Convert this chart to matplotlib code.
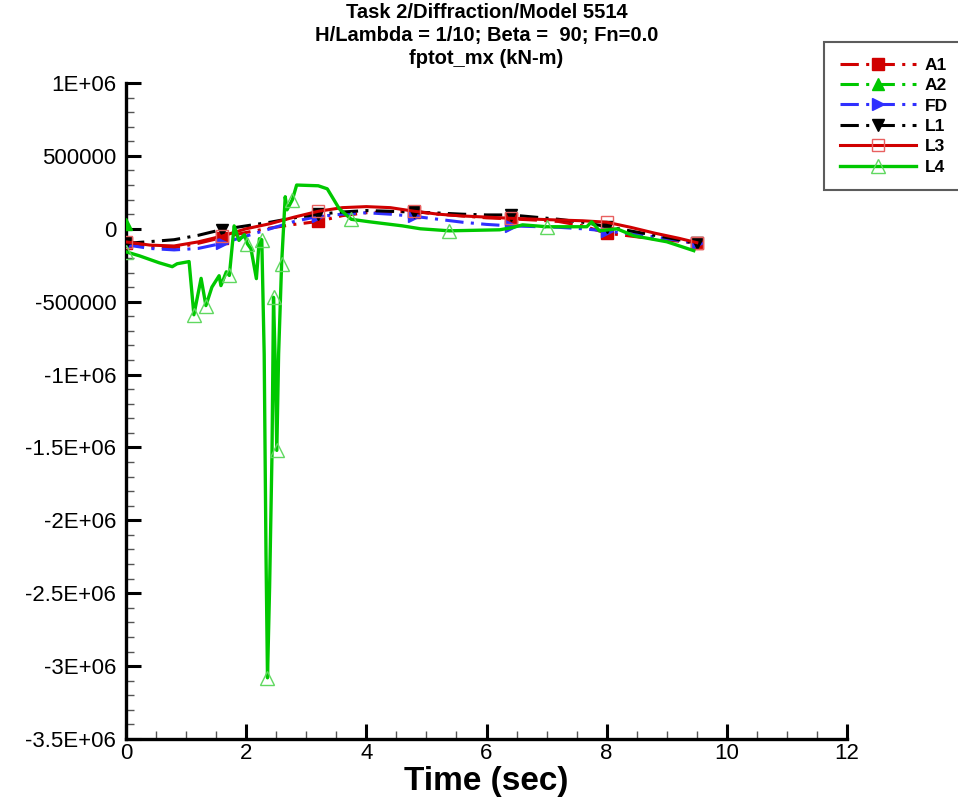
import matplotlib
matplotlib.use("Agg")
import matplotlib.pyplot as plt

# ---------------- data ----------------
t_grid = [0.0, 0.4, 0.8, 1.2, 1.6, 2.0, 2.4, 2.8, 3.2, 3.6, 4.0, 4.4, 4.8,
          5.2, 5.6, 6.0, 6.4, 6.8, 7.2, 7.6, 8.0, 8.4, 8.8, 9.2, 9.5]

a1 = [-100000, -125000, -130000, -100000, -60000, -25000, 5000, 30000, 50000,
      90000, 110000, 118000, 118000, 100000, 88000, 75000, 68000, 60000, 50000,
      20000, -30000, -50000, -70000, -85000, -100000]

fd = [-110000, -135000, -145000, -135000, -100000, -50000, 0, 50000, 85000,
      100000, 110000, 100000, 85000, 65000, 45000, 30000, 20000, 15000, 10000,
      0, -15000, -35000, -55000, -80000, -100000]

l1 = [-100000, -88000, -75000, -45000, -5000, 20000, 45000, 75000, 100000,
      115000, 125000, 120000, 115000, 108000, 100000, 95000, 95000, 80000,
      65000, 45000, 15000, -15000, -45000, -75000, -100000]

l3 = [-90000, -112000, -118000, -90000, -50000, 0, 35000, 80000, 120000,
      145000, 152000, 145000, 120000, 100000, 88000, 80000, 72000, 66000,
      60000, 55000, 45000, 10000, -30000, -65000, -95000]

a2_t = [0.0]
a2 = [30000]

l4_t = [0.00, 0.22, 0.55, 0.77, 0.85, 1.05, 1.13, 1.25, 1.33, 1.43, 1.55, 1.58,
        1.67, 1.72, 1.80, 1.88, 1.97, 2.02, 2.08, 2.17, 2.22, 2.26, 2.30, 2.33,
        2.355, 2.39, 2.43, 2.455, 2.48, 2.51, 2.54, 2.59, 2.65, 2.68, 2.77,
        2.84, 3.20, 3.35, 3.55, 3.75, 4.05, 4.60, 4.90, 5.38, 6.22, 6.45, 6.60,
        7.00, 7.67, 7.75, 7.88, 8.17, 8.45, 9.00, 9.45]
l4 = [-158000, -185000, -233000, -260000, -240000, -225000, -590000, -340000,
      -527000, -400000, -322000, -390000, -295000, -320000, 20000, -80000,
      -40000, -103000, -137000, -342000, -68000, -75000, -860000, -2230000,
      -3080000, -2460000, -1540000, -470000, -860000, -1520000, -860000,
      -240000, 220000, 130000, 200000, 300000, 295000, 274000, 137000, 65000,
      48000, 20000, 0, -14000, -7000, 10000, 27000, 14000, 14000, 48000,
      -14000, 0, -48000, -89000, -150000]
l4_marks = [0, 6, 8, 13, 17, 21, 24, 27, 29, 31, 34, 39, 43, 47]

x_ticks = [0, 2, 4, 6, 8, 10, 12]
y_ticks = [1e6, 5e5, 0, -5e5, -1e6, -1.5e6, -2e6, -2.5e6, -3e6, -3.5e6]
y_labels = ["1E+06", "500000", "0", "-500000", "-1E+06", "-1.5E+06",
            "-2E+06", "-2.5E+06", "-3E+06", "-3.5E+06"]

titles = ["Task 2/Diffraction/Model 5514",
          "H/Lambda = 1/10; Beta =  90; Fn=0.0",
          "fptot_mx (kN-m)"]

# ---------------- style ----------------
plt.rcParams['font.family'] = ['Liberation Sans', 'DejaVu Sans']

RED = "#D00000"
GREEN = "#00C800"
BLUE = "#3030FF"
DD = (0, (6, 2.4, 1, 2.4))

fig = plt.figure(figsize=(9.58, 8.05), dpi=100)
ax = fig.add_axes([126/958, 1-739/805, (847-126)/958, (739-83)/805])

lw = 2.2
ax.plot(t_grid, a1, color=RED, lw=lw, linestyle=DD, marker='s', ms=8,
        mfc=RED, mec=RED, markevery=4, label="A1", zorder=3)
ax.plot(a2_t, a2, color=GREEN, lw=lw, linestyle=DD, marker='^', ms=9,
        mfc=GREEN, mec=GREEN, label="A2", zorder=3)
ax.plot(t_grid, fd, color=BLUE, lw=lw, linestyle=DD, marker='>', ms=9,
        mfc=BLUE, mec=BLUE, markevery=4, label="FD", zorder=3)
ax.plot(t_grid, l1, color='black', lw=lw, linestyle=DD, marker='v', ms=9,
        mfc='black', mec='black', markevery=4, label="L1", zorder=3)
ax.plot(t_grid, l3, color=RED, lw=lw, linestyle='-', marker='s', ms=9,
        mfc='none', mec="#E86060", mew=1.0, markevery=4, label="L3", zorder=4)
ax.plot(l4_t, l4, color=GREEN, lw=2.4, linestyle='-', marker='^', ms=10,
        mfc='none', mec="#60D860", mew=1.0, markevery=l4_marks,
        label="L4", zorder=5)

ax.set_xlim(0, 12)
ax.set_ylim(-3.5e6, 1e6)
ax.set_xticks(x_ticks)
ax.set_xticks([v * 0.5 for v in range(25)], minor=True)
ax.set_yticks(y_ticks)
ax.set_yticks([v * 1e5 for v in range(-35, 11)], minor=True)
ax.set_yticklabels(y_labels)
ax.set_xticklabels([str(v) for v in x_ticks])

for s in ['top', 'right']:
    ax.spines[s].set_visible(False)
for s in ['left', 'bottom']:
    ax.spines[s].set_linewidth(2.4)

ax.tick_params(which='major', direction='in', length=11, width=2.2, pad=7,
               labelsize=16)
ax.tick_params(which='minor', direction='in', length=6, width=1.0,
               color='#555555')
ax.tick_params(axis='x', which='major', pad=3)

ax.set_xlabel("Time (sec)", fontsize=24, fontweight='bold', labelpad=1)

cx = (126 + 847) / 2 / 958
for i, tt in enumerate(titles):
    fig.text(cx, 1 - (13 + 22.5 * i) / 805, tt, ha='center', va='center',
             fontsize=14.5, fontweight='bold')

leg = fig.legend(loc='upper left', bbox_to_anchor=(824/958, 1 - 42/805),
                 borderaxespad=0, fancybox=False, frameon=True,
                 edgecolor='#333333', numpoints=1, handlelength=4.4,
                 handletextpad=0.5, labelspacing=0.3, borderpad=0.9,
                 prop={'weight': 'bold', 'size': 12.5})
leg.get_frame().set_linewidth(1.5)

fig.savefig("out.png", dpi=100)
